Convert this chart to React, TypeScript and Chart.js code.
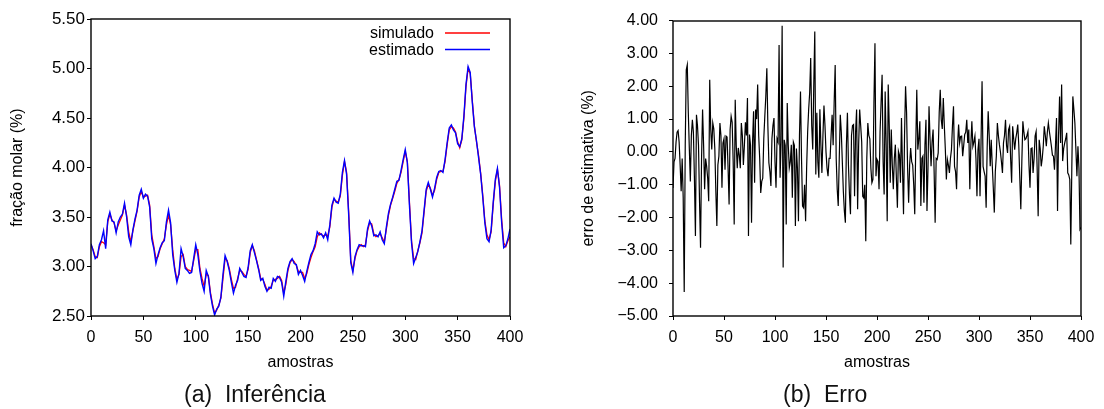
import React, { useEffect, useRef } from "react";
import { Chart, registerables } from "chart.js";

Chart.register(...registerables);

const FONT = '"Liberation Sans", Arial, Helvetica, sans-serif';

// ---------- data ----------
const sampleStep = 2; // left plot values are read every 2 samples
const xTickValues = [0, 50, 100, 150, 200, 250, 300, 350, 400];
const leftYTicks = [2.5, 3.0, 3.5, 4.0, 4.5, 5.0, 5.5];
const rightYTicks = [-5, -4, -3, -2, -1, 0, 1, 2, 3, 4];

const simulado = [
  3.22, 3.17, 3.10, 3.09, 3.20, 3.25, 3.24, 3.22, 3.45, 3.53,
  3.47, 3.44, 3.36, 3.42, 3.47, 3.52, 3.62, 3.52, 3.35, 3.25,
  3.36, 3.46, 3.56, 3.70, 3.76, 3.70, 3.71, 3.72, 3.62, 3.32,
  3.20, 3.08, 3.10, 3.18, 3.23, 3.28, 3.42, 3.52, 3.42, 3.17,
  2.98, 2.87, 2.92, 3.10, 3.12, 3.00, 2.97, 2.96, 2.95, 3.06,
  3.17, 3.17, 2.98, 2.88, 2.80, 2.92, 2.91, 2.74, 2.62, 2.53,
  2.56, 2.61, 2.68, 2.88, 3.08, 3.06, 2.98, 2.87, 2.78, 2.79,
  2.88, 2.96, 2.95, 2.92, 2.90, 2.97, 3.14, 3.21, 3.16, 3.07,
  2.98, 2.88, 2.87, 2.82, 2.76, 2.77, 2.80, 2.86, 2.87, 2.88,
  2.90, 2.86, 2.73, 2.82, 2.96, 3.04, 3.07, 3.05, 3.01, 2.95,
  2.94, 2.94, 2.88, 2.93, 3.02, 3.09, 3.15, 3.20, 3.30, 3.34,
  3.32, 3.31, 3.32, 3.31, 3.40, 3.60, 3.68, 3.66, 3.65, 3.71,
  3.92, 4.06, 3.95, 3.55, 3.06, 2.96, 3.08, 3.16, 3.20, 3.22,
  3.20, 3.22, 3.36, 3.44, 3.43, 3.33, 3.30, 3.31, 3.33, 3.29,
  3.25, 3.38, 3.52, 3.62, 3.69, 3.76, 3.84, 3.88, 3.95, 4.06,
  4.16, 4.06, 3.65, 3.26, 3.08, 3.07, 3.16, 3.24, 3.34, 3.55,
  3.76, 3.83, 3.79, 3.72, 3.77, 3.88, 3.95, 3.96, 3.96, 4.06,
  4.23, 4.38, 4.41, 4.40, 4.36, 4.26, 4.20, 4.28, 4.50, 4.82,
  5.00, 4.95, 4.68, 4.42, 4.26, 4.12, 3.94, 3.72, 3.46, 3.32,
  3.27, 3.35, 3.63, 3.86, 3.98, 3.82, 3.48, 3.24, 3.20, 3.26,
  3.30,
];

const estimado = [
  3.23, 3.16, 3.08, 3.10, 3.22, 3.27, 3.36, 3.18, 3.47, 3.55,
  3.46, 3.45, 3.34, 3.45, 3.50, 3.53, 3.64, 3.50, 3.30, 3.22,
  3.37, 3.48, 3.57, 3.72, 3.78, 3.69, 3.73, 3.71, 3.60, 3.28,
  3.18, 3.03, 3.12, 3.19, 3.24, 3.26, 3.45, 3.57, 3.44, 3.12,
  2.96, 2.84, 2.93, 3.18, 3.10, 2.98, 2.96, 2.93, 2.94, 3.08,
  3.22, 3.12, 2.95, 2.83, 2.75, 2.96, 2.90, 2.72, 2.60, 2.51,
  2.57, 2.60, 2.69, 2.92, 3.11, 3.05, 2.96, 2.84, 2.73, 2.81,
  2.86, 2.98, 2.94, 2.90, 2.89, 2.99, 3.16, 3.22, 3.14, 3.06,
  2.97, 2.86, 2.88, 2.80, 2.75, 2.79, 2.78, 2.88, 2.85, 2.90,
  2.89, 2.84, 2.70, 2.85, 2.98, 3.05, 3.08, 3.03, 3.02, 2.92,
  2.96, 2.91, 2.85, 2.95, 3.04, 3.12, 3.16, 3.23, 3.35, 3.32,
  3.33, 3.29, 3.34, 3.27, 3.42, 3.62, 3.69, 3.65, 3.64, 3.73,
  3.95, 4.07, 3.93, 3.52, 3.04, 2.94, 3.10, 3.17, 3.22, 3.21,
  3.21, 3.20, 3.38, 3.46, 3.41, 3.31, 3.32, 3.30, 3.35, 3.27,
  3.23, 3.40, 3.54, 3.63, 3.70, 3.78, 3.86, 3.87, 3.97, 4.08,
  4.18, 4.05, 3.62, 3.24, 3.03, 3.09, 3.15, 3.25, 3.36, 3.57,
  3.78, 3.85, 3.78, 3.70, 3.79, 3.90, 3.96, 3.97, 3.95, 4.08,
  4.25, 4.40, 4.43, 4.38, 4.35, 4.24, 4.21, 4.29, 4.52, 4.84,
  5.02, 4.96, 4.66, 4.41, 4.27, 4.10, 3.93, 3.70, 3.44, 3.28,
  3.25, 3.37, 3.65, 3.88, 3.99, 3.80, 3.45, 3.19, 3.21, 3.28,
  3.38,
];

const erro = [
  -1.10, -0.30, -0.20, 0.30, 0.60, 0.65, 0.30, -0.40, -1.20, -0.20,
  -1.40, -4.27, 0.20, 2.50, 2.65, 1.20, 0.10, -0.90, 0.50, 0.98,
  0.60, -0.80, -2.56, 1.13, 0.80, 0.20, -1.50, -2.92, -0.20, 1.29,
  0.20, -1.14, -0.20, -0.44, -0.80, -1.50, 2.20, 0.70, 0.07, 0.88,
  0.70, 0.10, -1.20, -2.26, -0.40, -0.13, 0.88, 0.50, -1.09, 0.27,
  0.40, -0.54, 0.48, 0.45, -0.50, -1.60, 0.68, 1.08, 0.90, -0.30,
  -2.21, 1.59, 0.20, -0.50, 0.12, -0.10, -0.50, 0.88, 0.50, -0.40,
  0.20, 0.90, 0.50, 1.64, -2.56, 0.53, 0.20, -2.16, 0.30, 1.24,
  -0.94, 1.29, 1.00, 2.05, 0.50, -0.20, -1.25, -0.90, -0.80, 0.40,
  1.08, 1.70, 2.55, 0.80, -0.33, -0.60, -1.04, 0.40, 0.80, 1.03,
  -0.30, -1.09, 0.40, 0.30, 3.26, -0.79, 0.30, 3.84, -3.52, 0.37,
  0.20, -2.21, 1.49, 0.20, -0.49, -0.30, 0.22, -1.40, 0.30, 0.20,
  -2.26, 0.10, -0.50, -2.11, 0.50, 1.84, -0.20, -1.65, -1.70, -1.00,
  -2.11, -0.50, 0.60, 1.29, 1.80, 2.86, 0.80, 0.07, 2.00, 3.67,
  -0.69, 1.19, -0.30, -0.79, 1.30, 0.20, -0.64, 0.50, 1.41, 0.80,
  0.00, -0.50, -0.74, -0.20, -0.20, 0.50, 1.13, 0.20, 1.50, 2.65,
  -0.20, -1.14, -1.65, -0.20, 1.13, 0.60, -0.30, -1.20, -1.80, -2.16,
  0.20, 1.19, -0.40, -1.30, -1.90, 0.50, 0.80, 0.83, -1.35, 0.60,
  1.29, -1.75, 0.20, 1.29, 0.80, 0.30, -1.35, -1.40, -1.00, -2.72,
  -0.20, 0.88, 0.50, 0.40, -0.50, -0.94, -0.84, 1.50, 3.31, -0.74,
  -0.23, -0.30, -1.14, 0.60, 1.50, 2.35, -0.30, -1.30, 1.84, 0.20,
  -2.11, 2.05, 0.80, -0.94, 0.68, -0.40, -1.14, -0.20, 0.22, -0.80,
  -1.70, 0.02, -0.10, -0.94, 1.03, -0.50, -1.90, 0.50, 2.00, 1.20,
  -0.50, -1.55, -0.40, 0.12, -0.30, -0.40, -1.00, -1.90, 0.20, 1.89,
  0.07, 0.40, 0.93, -1.65, -0.20, -0.13, -1.55, 0.20, 0.98, -1.80,
  -0.50, 1.39, 0.40, -0.44, 0.30, 0.68, -0.60, -2.16, -0.20, -0.23,
  -0.03, 1.20, 1.89, 0.98, 0.70, 1.64, 0.80, 0.07, -0.84, -0.23,
  -0.40, -0.64, -0.20, 0.07, 0.80, 1.39, -0.44, -0.60, -1.14, 0.20,
  0.83, 0.27, 0.47, 0.48, -0.13, 0.20, 0.53, 0.60, 0.98, 0.27,
  0.68, -1.14, 0.20, 0.93, 0.17, 0.30, 0.48, -0.20, -1.35, 0.07,
  0.40, -1.35, 0.30, 2.15, -0.44, -0.60, -0.74, -1.70, 0.10, 1.24,
  0.50, -0.44, 0.37, -0.40, -1.09, -1.85, -0.60, -0.13, 0.88, 0.50,
  0.22, 0.00, -0.30, -0.64, 0.27, 0.50, 0.98, 0.20, -0.03, 0.68,
  0.78, -0.20, -0.94, 0.78, 0.40, 0.07, 0.40, 0.58, 0.83, 0.20,
  -0.80, -1.75, -0.30, 0.93, 0.60, 0.37, 0.40, 0.50, 0.62, -0.40,
  -1.09, 0.10, 0.12, -0.64, -0.20, 0.48, 0.62, -0.50, -1.96, 0.37,
  0.10, -0.44, -0.20, 0.17, 0.78, 0.50, 0.17, 0.60, 0.88, 0.62,
  0.40, 0.17, -0.10, -0.13, -0.54, 0.20, 1.03, -1.80, 0.50, 1.69,
  0.27, 2.05, -0.28, 0.10, 0.27, 0.40, 0.58, -0.64, -0.70, -0.84,
  -2.82, -0.50, 1.69, 1.30, 0.88, 0.07, -0.74, 0.17, -0.50, -2.36,
  -2.30,
];

// ---------- helpers ----------
const toPoints = (vals: number[], step: number) =>
  vals.map((v, i) => ({ x: i * step, y: v }));

const fmt = (v: number) =>
  v < 0 ? "\u2212" + Math.abs(v).toFixed(2) : v.toFixed(2);

const framePlugin = {
  id: "frameBox",
  afterDatasetsDraw(chart: any) {
    const { ctx, chartArea: a } = chart;
    ctx.save();
    ctx.strokeStyle = "#000";
    ctx.lineWidth = 1.4;
    ctx.strokeRect(Math.round(a.left), Math.round(a.top), Math.round(a.right - a.left), Math.round(a.bottom - a.top));
    ctx.restore();
  },
};

const gnuLegendPlugin = {
  id: "gnuLegend",
  afterDatasetsDraw(chart: any) {
    const { ctx, chartArea: a } = chart;
    chart.data.datasets.forEach((ds: any, i: number) => {
      const y = a.top + 14 + i * 16.5;
      ctx.save();
      ctx.font = `16px ${FONT}`;
      ctx.fillStyle = "#000";
      ctx.textAlign = "right";
      ctx.textBaseline = "middle";
      ctx.fillText(ds.label, a.right - 76, y + 1);
      ctx.strokeStyle = ds.borderColor;
      ctx.lineWidth = 1.3;
      ctx.beginPath();
      ctx.moveTo(a.right - 65, y);
      ctx.lineTo(a.right - 20, y);
      ctx.stroke();
      ctx.restore();
    });
  },
};

const tickFont = { family: FONT, size: 16 };
const titleFont = { family: FONT, size: 16 };

function xScale() {
  return {
    type: "linear" as const,
    min: 0,
    max: 400,
    afterFit: (s: any) => {
      s.height = 56;
    },
    afterBuildTicks: (s: any) => {
      s.ticks = xTickValues.map((v) => ({ value: v }));
    },
    ticks: { font: tickFont, color: "#000", padding: 8, maxRotation: 0, autoSkip: false },
    grid: { display: true, drawOnChartArea: false, drawTicks: true, tickLength: 4, color: "#000", tickColor: "#000" },
    border: { display: false },
    title: { display: true, text: "amostras", font: titleFont, color: "#000", padding: { top: 0, bottom: 0 } },
  };
}

function yScale(min: number, max: number, tickVals: number[], width: number, tickPad: number, tickSize: number, title: string, titlePad: number) {
  return {
    type: "linear" as const,
    min,
    max,
    afterFit: (s: any) => {
      s.width = width;
    },
    afterBuildTicks: (s: any) => {
      s.ticks = tickVals.map((v) => ({ value: v }));
    },
    ticks: { font: { family: FONT, size: tickSize }, color: "#000", padding: tickPad, callback: (v: any) => fmt(Number(v)) },
    grid: { display: true, drawOnChartArea: false, drawTicks: true, tickLength: 4, color: "#000", tickColor: "#000" },
    border: { display: false },
    title: { display: true, text: title, font: titleFont, color: "#000", padding: { top: titlePad, bottom: 0 } },
  };
}

function ChartCanvas({ makeConfig, left }: { makeConfig: () => any; left: number }) {
  const ref = useRef<HTMLCanvasElement | null>(null);
  useEffect(() => {
    if (!ref.current) return;
    const chart = new Chart(ref.current, makeConfig());
    return () => chart.destroy();
  }, []);
  return (
    <canvas
      ref={ref}
      width={552}
      height={409}
      style={{ position: "absolute", left, top: 0, width: 552, height: 409 }}
    />
  );
}

const leftConfig = () => ({
  type: "line",
  data: {
    datasets: [
      {
        label: "simulado",
        data: toPoints(simulado, sampleStep),
        borderColor: "#ff0000",
        borderWidth: 1.3,
        pointRadius: 0,
        tension: 0,
        fill: false,
        order: 1,
      },
      {
        label: "estimado",
        data: toPoints(estimado, sampleStep),
        borderColor: "#0000ff",
        borderWidth: 1.4,
        pointRadius: 0,
        tension: 0,
        fill: false,
        order: 0,
      },
    ],
  },
  options: {
    animation: false,
    responsive: false,
    parsing: false,
    layout: { padding: { left: 0, right: 42, top: 19, bottom: 37 } },
    plugins: { legend: { display: false }, tooltip: { enabled: false } },
    scales: {
      x: xScale(),
      y: yScale(2.5, 5.5, leftYTicks, 91, 2, 17, "fração molar (%)", 8),
    },
  },
  plugins: [framePlugin, gnuLegendPlugin],
});

const rightConfig = () => ({
  type: "line",
  data: {
    datasets: [
      {
        label: "erro",
        data: toPoints(erro, 1),
        borderColor: "#000000",
        borderWidth: 1.2,
        pointRadius: 0,
        tension: 0,
        fill: false,
      },
    ],
  },
  options: {
    animation: false,
    responsive: false,
    parsing: false,
    layout: { padding: { left: 0, right: 23, top: 19, bottom: 37 } },
    plugins: { legend: { display: false }, tooltip: { enabled: false } },
    scales: {
      x: xScale(),
      y: yScale(-5, 4, rightYTicks, 121, 11, 16, "erro de estimativa (%)", 27),
    },
  },
  plugins: [framePlugin],
});

const captionStyle: React.CSSProperties = {
  position: "absolute",
  top: 381,
  fontFamily: FONT,
  fontSize: 23,
  lineHeight: "27px",
  whiteSpace: "pre",
  color: "#111",
};

export default function App() {
  return (
    <div style={{ position: "absolute", left: 0, top: 0, width: 1104, height: 409, background: "#fff", overflow: "hidden" }}>
      <ChartCanvas makeConfig={leftConfig} left={0} />
      <ChartCanvas makeConfig={rightConfig} left={552} />
      <div style={{ ...captionStyle, left: 184 }}>{"(a)  Inferência"}</div>
      <div style={{ ...captionStyle, left: 783 }}>{"(b)  Erro"}</div>
    </div>
  );
}
